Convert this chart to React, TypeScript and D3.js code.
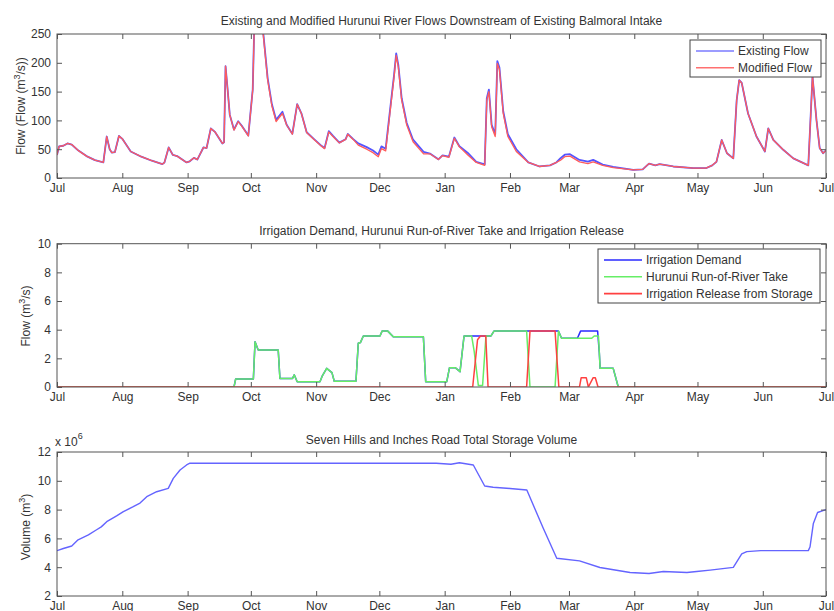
import React, { useEffect, useRef } from "react";
import * as d3 from "d3";

// season runs 1 Jul 2008 -> 1 Jul 2009, data given as day offsets from 1 Jul
const seasonStart = new Date(Date.UTC(2008, 6, 1));
const seasonEnd = new Date(Date.UTC(2009, 6, 1));

const flowDays = [0, 1, 3, 5, 7, 10, 14, 18, 22, 23.6, 25, 26, 27.5, 29.4, 31, 35, 40, 45, 50, 51, 53, 55, 57, 61.5, 63, 65, 66.6, 69.5, 71, 73, 75, 78.5, 79.3, 80, 81, 82, 84, 86, 87.7, 90.8, 92.9, 93.6, 95, 97, 98, 100, 102, 104, 107, 109, 111.7, 114, 116, 118.5, 122, 125, 127, 129, 131, 134, 137, 138, 140.6, 143, 147, 150, 152.5, 154, 156, 158, 160, 161, 162, 163.6, 166, 169, 174, 177, 181, 183, 186, 188.6, 191, 195, 199, 203, 204, 205, 206.3, 208, 209, 210, 211.8, 214, 218, 223.7, 229, 234, 237, 239, 241, 243.5, 248, 252, 254.5, 259, 264, 273.5, 278, 281, 284, 286, 292.5, 302, 308, 311, 313, 315.5, 318, 321, 322.6, 323.8, 325, 328, 332, 336, 337.6, 340, 344.7, 349.5, 356.6, 357.4, 358.6, 360.5, 362, 363.6, 365];

const modifiedFlow = [40, 55, 56, 60, 58, 48, 38, 31, 27, 72, 50, 44, 45, 73, 68, 46, 37, 30, 24, 27, 53, 40, 38, 27, 29, 35, 32, 53, 52, 86, 80, 60, 62, 194, 153, 110, 83, 98, 90, 73, 153, 255, 300, 280, 245, 170, 125, 98, 112, 92, 76, 128, 112, 79, 67, 57, 51, 80, 72, 61, 67, 76, 67, 57, 50, 44, 37, 51, 47, 112, 176, 213, 193, 135, 92, 63, 42, 42, 32, 39, 36, 69, 54, 40, 27, 22, 135, 150, 89, 72, 199, 188, 112, 72, 46, 27, 20, 22, 27, 31, 37, 38, 28, 25, 28, 22, 18, 14, 15, 25, 22, 24, 20, 17, 17, 22, 28, 66, 43, 34, 135, 170, 165, 112, 72, 46, 86, 66, 49, 34, 22, 83, 176, 100, 52, 43, 48];

const existingFlow = [40, 55, 56, 60, 58, 48, 38, 31, 27, 72, 50, 44, 45, 73, 68, 46, 37, 30, 24, 27, 53, 40, 38, 27, 29, 35, 32, 53, 52, 86, 80, 60, 62, 194, 153, 110, 84, 98.6, 90.6, 73.6, 153.6, 258, 303, 283, 248, 173, 128, 101, 115, 92.6, 76.6, 128.4, 112.4, 79.4, 67.4, 57.4, 52, 81.3, 73, 61.4, 67.4, 76.4, 67.4, 60, 53.6, 47.6, 40.6, 54.9, 50.9, 115.5, 179.5, 216.5, 196.5, 138.5, 95.5, 66.5, 45.5, 42.4, 32.4, 39.4, 37, 70.3, 55.1, 43.5, 28, 23.5, 138.5, 153.5, 92.5, 75.9, 202.9, 191.9, 115.9, 75.9, 49.9, 27, 20, 22, 27, 34.4, 40.4, 41.4, 31.4, 28.4, 31.5, 23.3, 19.3, 14, 15, 25, 22, 24, 20, 17, 17, 22, 28, 66, 43, 34, 135, 170, 165, 112, 72, 46, 86, 66, 49, 34, 22, 83, 176, 100, 52, 43, 48];

const takeDays = [0, 84, 84.8, 93.2, 94, 95.5, 105, 105.8, 111.8, 112.6, 114, 124.8, 126, 128, 130.5, 131.6, 141.9, 143, 144, 145.4, 153.3, 154.3, 157, 159.6, 173.9, 175, 185, 186.3, 189, 191.3, 193.2, 196.8, 198, 200, 202, 203.6, 206, 207.4, 222.9, 224.5, 236.4, 238, 239.5, 253.8, 255, 257, 257.8, 264, 266.4, 365];
const takeFlow = [0, 0, 0.56, 0.56, 3.16, 2.58, 2.58, 0.6, 0.6, 0.85, 0.37, 0.37, 0.8, 1.3, 1.0, 0.4, 0.4, 3.05, 3.1, 3.56, 3.56, 3.9, 3.9, 3.5, 3.5, 0.37, 0.37, 1.35, 1.35, 1.07, 3.56, 3.56, 2.5, 0.1, 0.1, 3.56, 3.56, 3.9, 3.9, 0, 0, 3.9, 3.4, 3.4, 3.56, 3.56, 1.3, 1.3, 0, 0];

const demandDays = [0, 84, 84.8, 93.2, 94, 95.5, 105, 105.8, 111.8, 112.6, 114, 124.8, 126, 128, 130.5, 131.6, 141.9, 143, 144, 145.4, 153.3, 154.3, 157, 159.6, 173.9, 175, 185, 186.3, 189, 191.3, 193.2, 206, 207.4, 238, 239.5, 247, 248.5, 256.6, 257.4, 257.8, 264, 266.4, 365];
const demandFlow = [0, 0, 0.56, 0.56, 3.16, 2.58, 2.58, 0.6, 0.6, 0.85, 0.37, 0.37, 0.8, 1.3, 1.0, 0.4, 0.4, 3.05, 3.1, 3.56, 3.56, 3.9, 3.9, 3.5, 3.5, 0.37, 0.37, 1.35, 1.35, 1.07, 3.56, 3.56, 3.9, 3.9, 3.4, 3.4, 3.9, 3.9, 2.4, 1.3, 1.3, 0, 0];

const releaseDays = [0, 197.3, 199.6, 201, 203.5, 204.6, 222.9, 224.5, 236.4, 238.2, 248, 248.8, 251.2, 252.2, 254.5, 255.5, 256.8, 365];
const releaseFlow = [0, 0, 3.3, 3.56, 3.56, 0, 0, 3.9, 3.9, 0, 0, 0.65, 0.65, 0, 0.65, 0.65, 0, 0];

// storage volume, in millions of m3
const storageDays = [0, 3, 7, 10, 14.9, 18.8, 21, 23.6, 28.3, 31.5, 36.2, 39.4, 42.6, 47.3, 52.8, 55.2, 58.4, 61.5, 63.1, 180, 187, 191, 197.6, 203, 207, 215, 223, 230.8, 237.2, 248, 257.7, 272, 281, 287.8, 299, 303.6, 310, 321, 325, 327.4, 334, 356.6, 357.4, 359, 361, 365];
const storageVolume = [5.15, 5.3, 5.47, 5.9, 6.24, 6.6, 6.8, 7.16, 7.56, 7.86, 8.2, 8.45, 8.9, 9.24, 9.47, 10.17, 10.75, 11.1, 11.22, 11.22, 11.15, 11.25, 11.1, 9.64, 9.55, 9.47, 9.36, 6.7, 4.62, 4.44, 3.98, 3.63, 3.56, 3.7, 3.63, 3.7, 3.8, 3.99, 4.92, 5.08, 5.15, 5.15, 5.4, 7.04, 7.8, 8.0];

const titles = [
  "Existing and Modified Hurunui River Flows Downstream of Existing Balmoral Intake",
  "Irrigation Demand, Hurunui Run-of-River Take and Irrigation Release",
  "Seven Hills and Inches Road Total Storage Volume",
];
const flowLegend = ["Existing Flow", "Modified Flow"];
const irrigationLegend = ["Irrigation Demand", "Hurunui Run-of-River Take", "Irrigation Release from Storage"];

const toSeries = (days: number[], vals: number[]) =>
  days.map((d, i) => ({ date: new Date(seasonStart.getTime() + d * 864e5), v: vals[i] }));

const FONT = "'Liberation Sans', Arial, sans-serif";
const FS = 12;

export default function App() {
  const ref = useRef<SVGSVGElement>(null);

  useEffect(() => {
    const svg = d3.select(ref.current);
    svg.selectAll("*").remove();
    const left = 57, right = 826;
    const x = d3.scaleUtc().domain([seasonStart, seasonEnd]).range([left, right]);
    const months = d3.utcMonth.range(seasonStart, d3.utcDay.offset(seasonEnd, 1));

    const panels = [
      {
        top: 34, bottom: 178, domain: [0, 250], ticks: [0, 50, 100, 150, 200, 250], titleY: 25,
        series: [
          { data: toSeries(flowDays, existingFlow), color: "#5555ff", width: 1.8 },
          { data: toSeries(flowDays, modifiedFlow), color: "#ff5c5c", width: 1.3 },
        ],
        legend: { names: flowLegend, colors: ["#7b7bff", "#ff7070"], x: 690, y: 40, w: 131, h: 37 },
      },
      {
        top: 243.7, bottom: 387, domain: [0, 10], ticks: [0, 2, 4, 6, 8, 10], titleY: 234.5,
        series: [
          { data: toSeries(demandDays, demandFlow), color: "#2a2aff", width: 1.5 },
          { data: toSeries(takeDays, takeFlow), color: "#66ee66", width: 1.5 },
          { data: toSeries(releaseDays, releaseFlow), color: "#ff4040", width: 1.5 },
        ],
        legend: { names: irrigationLegend, colors: ["#2a2aff", "#66ee66", "#ff4040"], x: 598, y: 249, w: 222, h: 54 },
      },
      {
        top: 452, bottom: 596, domain: [2, 12], ticks: [2, 4, 6, 8, 10, 12], titleY: 443.5,
        series: [{ data: toSeries(storageDays, storageVolume), color: "#6464ff", width: 1.4 }],
        legend: null,
      },
    ];

    panels.forEach((p, pi) => {
      const y = d3.scaleLinear().domain(p.domain).range([p.bottom, p.top]);
      const g = svg.append("g");

      g.append("clipPath").attr("id", `clip${pi}`)
        .append("rect").attr("x", left).attr("y", p.top).attr("width", right - left).attr("height", p.bottom - p.top);

      const line = d3.line<{ date: Date; v: number }>().x((d) => x(d.date)).y((d) => y(d.v));
      const lines = g.append("g").attr("clip-path", `url(#clip${pi})`);
      p.series.forEach((s) => {
        lines.append("path").datum(s.data).attr("d", line)
          .attr("fill", "none").attr("stroke", s.color).attr("stroke-width", s.width)
          .attr("stroke-linejoin", "round");
      });

      // axes, ticks pointing inwards like matlab
      const style = (sel: any) => {
        sel.select(".domain").remove();
        sel.selectAll("line").attr("stroke", "#555");
        sel.selectAll("text").attr("fill", "#333").attr("font-size", FS).attr("font-family", FONT);
      };
      g.append("g").attr("transform", `translate(0,${p.bottom})`)
        .call(d3.axisBottom(x).tickValues(months).tickFormat(d3.utcFormat("%b") as any).tickSizeInner(-5).tickSizeOuter(0).tickPadding(5.5))
        .call(style);
      g.append("g").attr("transform", `translate(0,${p.top})`)
        .call(d3.axisTop(x).tickValues(months).tickFormat(() => "").tickSizeInner(-5).tickSizeOuter(0))
        .call(style);
      g.append("g").attr("transform", `translate(${left},0)`)
        .call(d3.axisLeft(y).tickValues(p.ticks).tickSizeInner(-5).tickSizeOuter(0).tickPadding(6))
        .call(style);
      g.append("g").attr("transform", `translate(${right},0)`)
        .call(d3.axisRight(y).tickValues(p.ticks).tickFormat(() => "").tickSizeInner(-5).tickSizeOuter(0))
        .call(style);

      g.append("rect").attr("x", left).attr("y", p.top).attr("width", right - left).attr("height", p.bottom - p.top)
        .attr("fill", "none").attr("stroke", "#555").attr("stroke-width", 1);

      g.append("text").attr("x", (left + right) / 2).attr("y", p.titleY).attr("text-anchor", "middle")
        .attr("font-family", FONT).attr("font-size", FS).attr("fill", "#333").text(titles[pi]);

      if (p.legend) {
        const L = p.legend;
        const lg = g.append("g");
        lg.append("rect").attr("x", L.x).attr("y", L.y).attr("width", L.w).attr("height", L.h)
          .attr("fill", "white").attr("stroke", "#444");
        L.names.forEach((name, i) => {
          const ly = L.y + 11 + i * 16.8;
          lg.append("line").attr("x1", L.x + 6).attr("x2", L.x + 44).attr("y1", ly).attr("y2", ly)
            .attr("stroke", L.colors[i]).attr("stroke-width", 1.6);
          lg.append("text").attr("x", L.x + 48).attr("y", ly + 4.3).attr("font-family", FONT)
            .attr("font-size", FS).attr("fill", "#333").text(name);
        });
      }
    });

    // y labels with superscripts
    const ylab = (cx: number, cy: number, parts: [string, boolean][]) => {
      const t = svg.append("text").attr("transform", `translate(${cx},${cy}) rotate(-90)`)
        .attr("text-anchor", "middle").attr("font-family", FONT).attr("font-size", FS).attr("fill", "#333");
      let up = false;
      parts.forEach(([s, sup]) => {
        const ts = t.append("tspan").text(s);
        if (sup && !up) { ts.attr("dy", -5).attr("font-size", 9); up = true; }
        else if (!sup && up) { ts.attr("dy", 5); up = false; }
      });
    };
    ylab(25, 106, [["Flow (Flow (m", false], ["3", true], ["/s))", false]]);
    ylab(30, 316, [["Flow (m", false], ["3", true], ["/s)", false]]);
    ylab(30, 527, [["Volume (m", false], ["3", true], [")", false]]);

    const ex = svg.append("text").attr("x", 55).attr("y", 446).attr("font-family", FONT)
      .attr("font-size", FS).attr("fill", "#333");
    ex.append("tspan").text("x 10");
    ex.append("tspan").attr("dy", -7).attr("font-size", 9).text("6");
  }, []);

  return (
    <svg ref={ref} width={834} height={611}
      style={{ position: "absolute", left: 0, top: 0, background: "white" }} />
  );
}
